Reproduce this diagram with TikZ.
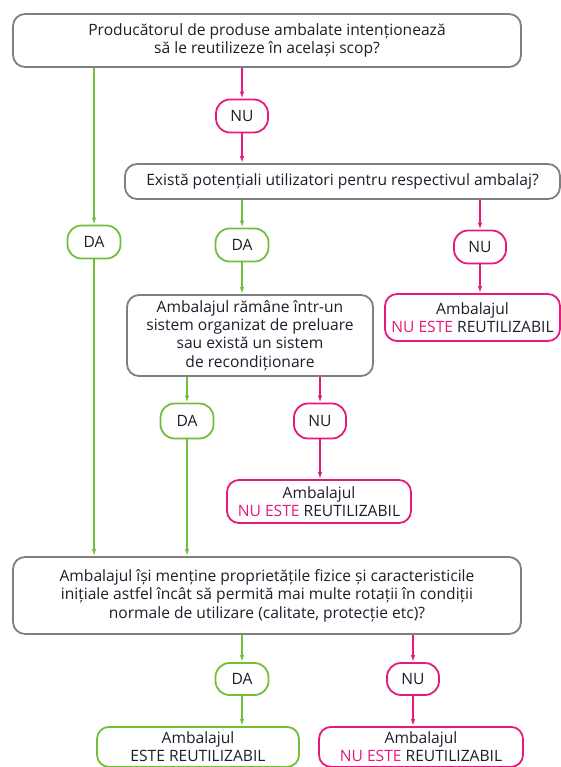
\documentclass[tikz,border=0pt]{standalone}
\usepackage{fontspec}
\setmainfont{Open Sans}
\usetikzlibrary{arrows.meta}
\definecolor{bordergray}{HTML}{7F7F7F}
\definecolor{dagreen}{HTML}{72BE3C}
\definecolor{nupink}{HTML}{E6197D}
\definecolor{txt}{HTML}{1F1D2B}
\begin{document}
\begin{tikzpicture}[x=1pt,y=-1pt,
  font=\fontsize{15.6}{18.4}\selectfont, text=txt,
  qbox/.style={draw=bordergray, line width=1.8pt, rounded corners=12pt, align=center, inner sep=0pt, fill=white},
  dapill/.style={draw=dagreen, line width=1.8pt, rounded corners=14pt, minimum width=53pt, minimum height=33pt, inner sep=0pt},
  nupill/.style={draw=nupink, line width=1.8pt, rounded corners=14pt, minimum width=52pt, minimum height=33pt, inner sep=0pt},
  gres/.style={draw=dagreen, line width=1.8pt, rounded corners=12pt, align=center, inner sep=0pt},
  pres/.style={draw=nupink, line width=1.8pt, rounded corners=12pt, align=center, inner sep=0pt},
  garrow/.style={draw=dagreen, line width=1.6pt, -{Latex[length=7pt,width=4.5pt]}},
  parrow/.style={draw=nupink, line width=1.6pt, -{Latex[length=7pt,width=4.5pt]}}
]
\useasboundingbox (0,0) rectangle (561,767);

% question boxes
\node[qbox, minimum width=508pt, minimum height=53pt] (b1) at (267,40.5)
  {Producătorul de produse ambalate intenționează\\să le reutilizeze în același scop?};
\node[qbox, minimum width=435pt, minimum height=35pt] (b2) at (342.5,181.5)
  {Există potențiali utilizatori pentru respectivul ambalaj?};
\node[qbox, minimum width=246pt, minimum height=81pt] (b3) at (250,335.5)
  {Ambalajul rămâne într-un\\sistem organizat de preluare\\sau există un sistem\\de recondiționare};
\node[qbox, minimum width=508pt, minimum height=77pt] (b4) at (267,595.5)
  {Ambalajul își menține proprietățile fizice și caracteristicile\\inițiale astfel încât să permită mai multe rotații în condiții\\normale de utilizare (calitate, protecție etc)?};

% DA / NU pills
\node[nupill] (nu1) at (242,116) {NU};
\node[dapill] (da1) at (94,242) {DA};
\node[dapill] (da2) at (242,245) {DA};
\node[nupill] (nu2) at (480,247) {NU};
\node[dapill, minimum height=35pt] (da3) at (187,421) {DA};
\node[nupill, minimum height=35pt] (nu3) at (320,421) {NU};
\node[dapill, minimum height=32pt] (da4) at (242,679) {DA};
\node[nupill, minimum height=32pt] (nu4) at (413,679) {NU};

% results
\node[pres, minimum width=175pt, minimum height=47pt] (r1) at (472.5,317.5)
  {Ambalajul\\{\color{nupink}NU ESTE} REUTILIZABIL};
\node[pres, minimum width=184pt, minimum height=43pt] (r2) at (319,501.5)
  {Ambalajul\\{\color{nupink}NU ESTE} REUTILIZABIL};
\node[gres, minimum width=202pt, minimum height=40pt, anchor=north] (r3) at (198,726)
  {Ambalajul\\ESTE REUTILIZABIL};
\node[pres, minimum width=204pt, minimum height=40pt, anchor=north] (r4) at (421,726)
  {Ambalajul\\{\color{nupink}NU ESTE} REUTILIZABIL};

% connectors
\draw[garrow] (b1.south -| da1.north) -- (da1.north);
\draw[garrow] (da1.south) -- (b4.north -| da1.south);
\draw[parrow] (b1.south -| nu1.north) -- (nu1.north);
\draw[parrow] (nu1.south) -- (b2.north -| nu1.south);
\draw[garrow] (b2.south -| da2.north) -- (da2.north);
\draw[garrow] (da2.south) -- (b3.north -| da2.south);
\draw[parrow] (b2.south -| nu2.north) -- (nu2.north);
\draw[parrow] (nu2.south) -- (r1.north -| nu2.south);
\draw[garrow] (b3.south -| da3.north) -- (da3.north);
\draw[garrow] (da3.south) -- (b4.north -| da3.south);
\draw[parrow] (b3.south -| nu3.north) -- (nu3.north);
\draw[parrow] (nu3.south) -- (r2.north -| nu3.south);
\draw[garrow] (b4.south -| da4.north) -- (da4.north);
\draw[garrow] (da4.south) -- (r3.north -| da4.south);
\draw[parrow] (b4.south -| nu4.north) -- (nu4.north);
\draw[parrow] (nu4.south) -- (r4.north -| nu4.south);
\end{tikzpicture}
\end{document}
